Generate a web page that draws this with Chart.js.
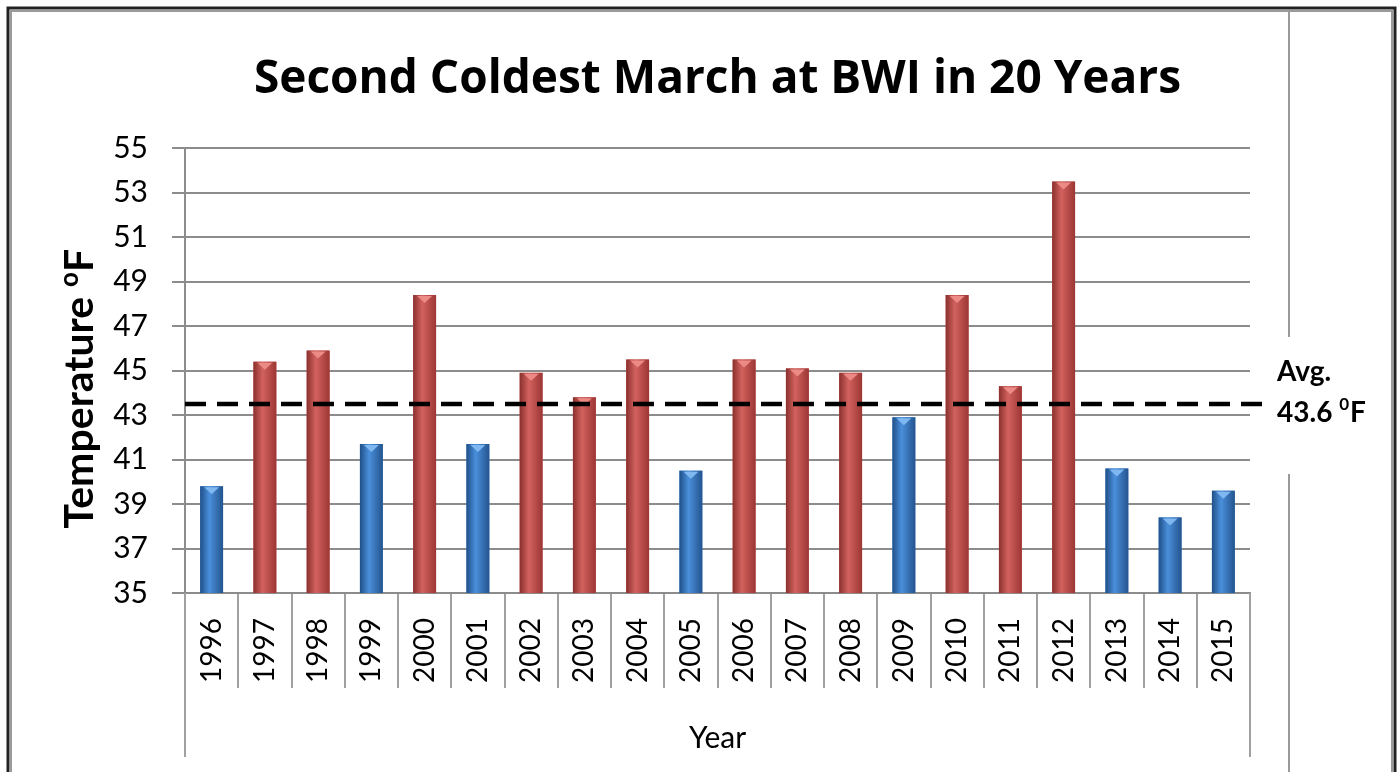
<!DOCTYPE html>
<html>
<head>
<meta charset="utf-8">
<script src="https://cdn.jsdelivr.net/npm/chart.js@4.4.1/dist/chart.umd.min.js"></script>
<style>
  html, body { margin: 0; padding: 0; background: #fff; }
</style>
</head>
<body>
<canvas id="bwi-march" width="1400" height="772"></canvas>
<script>
// March mean temperature at BWI
var years = ['1996', '1997', '1998', '1999', '2000', '2001', '2002', '2003', '2004', '2005',
             '2006', '2007', '2008', '2009', '2010', '2011', '2012', '2013', '2014', '2015'];
var marchTemps = [39.8, 45.4, 45.9, 41.7, 48.4, 41.7, 44.9, 43.8, 45.5, 40.5,
                  45.5, 45.1, 44.9, 42.9, 48.4, 44.3, 53.5, 40.6, 38.4, 39.6];
var avgTemp = 43.5;      // where the dashed line sits
var avgText = '43.6';    // what the note says
var yMin = 35, yMax = 55, yStep = 2;

var FONT = 'Lato';
var redShades = ['#8a302e', '#d2625e', '#9c3634'];
var blueShades = ['#1f4f88', '#4a8fdb', '#24548e'];

function isCold(v) { return v < avgTemp; }

var frame = {
    id: 'frame',
    beforeDraw: function (chart) {
        var ctx = chart.ctx;
        ctx.save();
        ctx.fillStyle = '#fff';
        ctx.fillRect(0, 0, chart.width, chart.height);
        // grey inner frame
        ctx.strokeStyle = '#9a9a9a';
        ctx.lineWidth = 2;
        ctx.beginPath();
        ctx.moveTo(11, chart.height); ctx.lineTo(11, 11); ctx.lineTo(1392, 11); ctx.lineTo(1392, chart.height);
        ctx.moveTo(1289, 10); ctx.lineTo(1289, chart.height);
        ctx.stroke();
        // black outer frame
        ctx.strokeStyle = '#222';
        ctx.lineWidth = 3;
        ctx.beginPath();
        ctx.moveTo(8, chart.height); ctx.lineTo(8, 8); ctx.lineTo(1395, 8); ctx.lineTo(1395, chart.height);
        ctx.stroke();
        ctx.restore();
    }
};

var barShade = {
    id: 'barShade',
    afterDatasetsDraw: function (chart) {
        var ctx = chart.ctx, area = chart.chartArea;
        ctx.save();
        chart.getDatasetMeta(0).data.forEach(function (bar, i) {
            var c = isCold(marchTemps[i]) ? blueShades : redShades;
            var l = bar.x - bar.width / 2, r = bar.x + bar.width / 2;
            var bottom = Math.min(bar.base, area.bottom);
            var g = ctx.createLinearGradient(l, 0, r, 0);
            g.addColorStop(0, c[0]);
            g.addColorStop(0.4, c[1]);
            g.addColorStop(1, c[2]);
            ctx.fillStyle = g;
            ctx.fillRect(l, bar.y, bar.width, bottom - bar.y);
            // small bevel at the top of the bar
            ctx.fillStyle = isCold(marchTemps[i]) ? '#7fb8f0' : '#ec8a86';
            ctx.beginPath();
            ctx.moveTo(l + 4, bar.y + 1);
            ctx.lineTo(r - 4, bar.y + 1);
            ctx.lineTo(bar.x, bar.y + 8);
            ctx.closePath();
            ctx.fill();
        });
        ctx.restore();
    }
};

var notes = {
    id: 'notes',
    afterDraw: function (chart) {
        var ctx = chart.ctx, area = chart.chartArea, y = chart.scales.y;
        ctx.save();

        // outer category box lines
        ctx.strokeStyle = '#a0a0a0';
        ctx.lineWidth = 2;
        ctx.beginPath();
        ctx.moveTo(area.left, area.bottom); ctx.lineTo(area.left, area.bottom + 164);
        ctx.moveTo(area.right, area.bottom); ctx.lineTo(area.right, area.bottom + 164);
        ctx.stroke();

        // average line
        var ay = y.getPixelForValue(avgTemp);
        ctx.strokeStyle = '#000';
        ctx.lineWidth = 4.5;
        ctx.setLineDash([21, 11]);
        ctx.beginPath();
        ctx.moveTo(area.left, ay);
        ctx.lineTo(area.right + 17, ay);
        ctx.stroke();
        ctx.setLineDash([]);

        // note to the right
        ctx.fillStyle = '#fff';
        ctx.fillRect(1272, ay - 67, 104, 137);
        ctx.fillStyle = '#000';
        ctx.textBaseline = 'alphabetic';
        ctx.textAlign = 'left';
        ctx.font = 'bold 28px ' + FONT;
        ctx.fillText('Avg.', 1277, ay - 23);
        var t = avgText + ' ';
        ctx.fillText(t, 1277, ay + 18);
        var x = 1277 + ctx.measureText(t).width;
        ctx.font = 'bold 17px ' + FONT;
        ctx.fillText('0', x, ay + 6);
        x += ctx.measureText('0').width + 1;
        ctx.font = 'bold 28px ' + FONT;
        ctx.fillText('F', x, ay + 18);

        // y axis title with raised o
        ctx.translate(93, (area.top + area.bottom) / 2 + 18);
        ctx.rotate(-Math.PI / 2);
        var big = 'bold 41px ' + FONT, small = 'bold 26px ' + FONT;
        ctx.font = big;
        var w1 = ctx.measureText('Temperature ').width, w3 = ctx.measureText('F').width;
        ctx.font = small;
        var w2 = ctx.measureText('o').width;
        var sx = -(w1 + w2 + w3) / 2;
        ctx.font = big;
        ctx.fillText('Temperature ', sx, 0);
        ctx.font = small;
        ctx.fillText('o', sx + w1, -15);
        ctx.font = big;
        ctx.fillText('F', sx + w1 + w2, 0);
        ctx.restore();
    }
};

var ctx = document.getElementById('bwi-march').getContext('2d');
var chart = new Chart(ctx, {
    type: 'bar',
    data: {
        labels: years,
        datasets: [{
            label: 'March temperature',
            data: marchTemps,
            backgroundColor: function (c) { return isCold(c.raw) ? blueShades[1] : redShades[1]; },
            borderWidth: 0,
            categoryPercentage: 1,
            barPercentage: 0.43
        }]
    },
    options: {
        responsive: false,
        animation: false,
        layout: { padding: { left: 10, right: 150, top: 0, bottom: 0 } },
        plugins: {
            legend: { display: false },
            tooltip: { enabled: false },
            title: {
                display: true,
                fullSize: false,
                text: 'Second Coldest March at BWI in 20 Years',
                color: '#000',
                font: { family: 'Open Sans', size: 46, weight: 'bold', lineHeight: 1.2 },
                padding: { top: 52, bottom: 41 }
            }
        },
        scales: {
            x: {
                grid: { drawOnChartArea: false, drawTicks: true, tickLength: 95, color: '#a0a0a0', lineWidth: 2 },
                border: { display: true, color: '#8c8c8c', width: 2 },
                ticks: {
                    color: '#000',
                    font: { family: FONT, size: 28 },
                    minRotation: 90, maxRotation: 90,
                    autoSkip: false,
                    padding: -70
                },
                title: {
                    display: true,
                    text: 'Year',
                    color: '#000',
                    font: { family: FONT, size: 30 },
                    padding: { top: 0, bottom: 16 }
                },
                afterFit: function (s) { s.height = 179; }
            },
            y: {
                min: yMin,
                max: yMax,
                ticks: {
                    stepSize: yStep,
                    color: '#000',
                    font: { family: FONT, size: 30 },
                    padding: 24
                },
                grid: { color: '#8c8c8c', lineWidth: 2, tickLength: 13 },
                border: { color: '#8c8c8c', width: 2 },
                afterFit: function (s) { s.width = 175; }
            }
        }
    },
    plugins: [frame, barShade, notes]
});
</script>
</body>
</html>
